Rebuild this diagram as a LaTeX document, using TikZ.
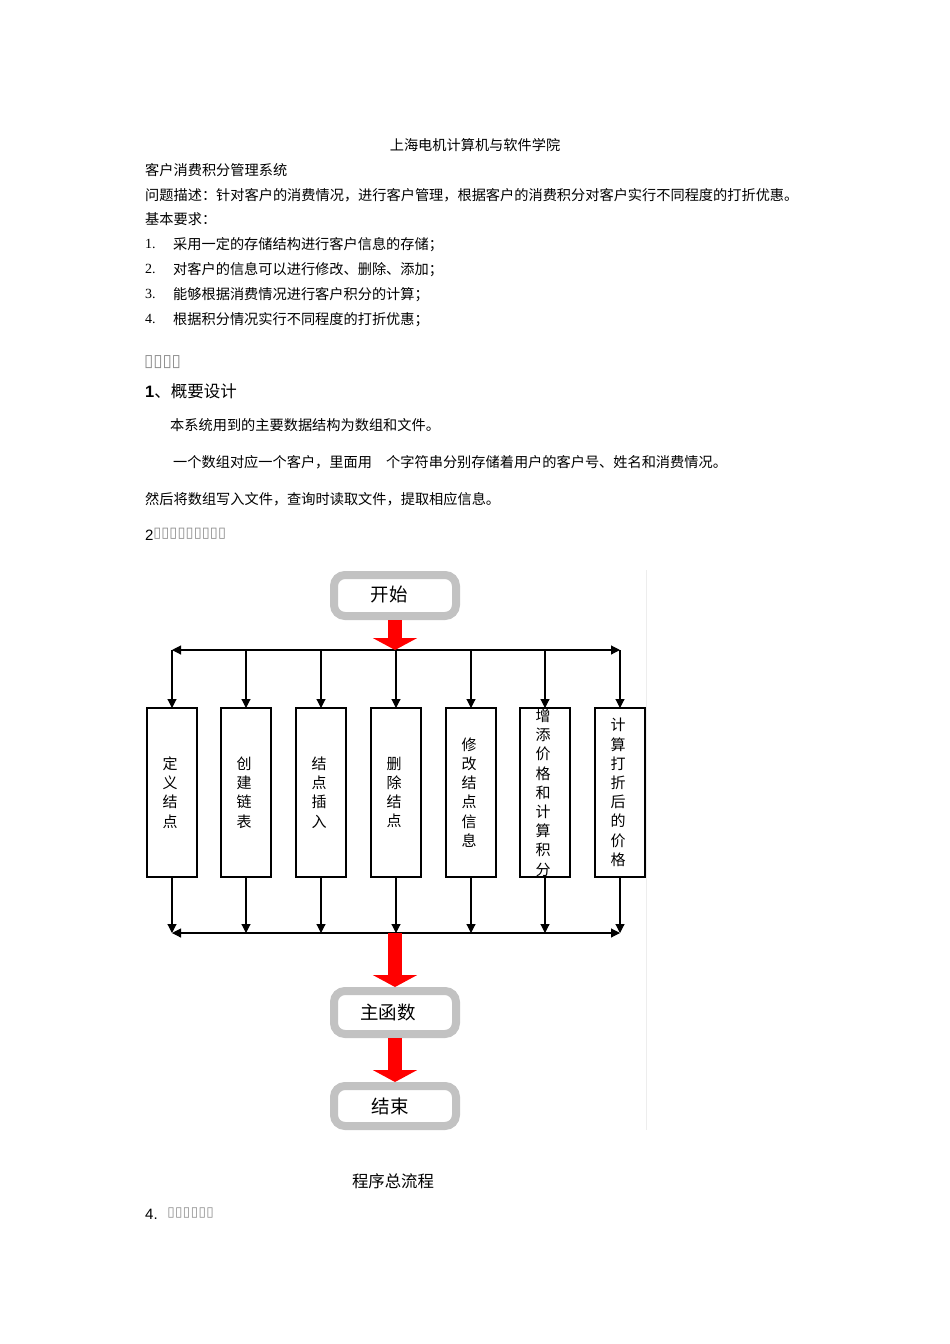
\documentclass[tikz,border=0pt]{standalone}
\usepackage{fontspec}
\setmainfont{Liberation Serif}
\newfontfamily\cjk{Noto Sans CJK SC}
\newfontfamily\lsans{Liberation Sans}
\newfontfamily\dejavu{DejaVu Sans}
\usetikzlibrary{arrows.meta}
\newcommand\tfu[1]{\makebox[#1pt]{\textcolor{black!45}{▯}}}
\begin{document}
\begin{tikzpicture}[x=1pt,y=-1pt,
  txt/.style={anchor=west,inner sep=0pt,font=\cjk\fontsize{14.2}{14.2}\selectfont},
  num/.style={anchor=west,inner sep=0pt,font=\fontsize{14}{14}\selectfont},
  tofu/.style={anchor=west,inner sep=0pt,font=\dejavu\fontsize{#1}{#1}\selectfont},
  rbox/.style={draw=black!24,line width=8pt,rounded corners=11pt,fill=white,
    minimum width=122pt,inner sep=0pt,outer sep=4pt},
  boxlab/.style={inner sep=0pt,font=\cjk\fontsize{18.5}{18.5}\selectfont},
  vbox/.style={draw,line width=1.1pt,minimum width=50pt,minimum height=169pt,inner sep=0pt,outer sep=0pt,fill=white},
  vlab/.style={align=center,inner sep=0pt,font=\cjk\fontsize{15}{19.2}\selectfont},
  conn/.style={line width=1.1pt,-{Triangle[width=9pt,length=9pt]}},
  conn2/.style={line width=1.1pt,{Triangle[width=9pt,length=9pt]}-{Triangle[width=9pt,length=9pt]}},
  redarr/.style={red,line width=14pt,-{Triangle[width=44pt,length=12pt]}}
]
\useasboundingbox (0,0) rectangle (950,1344);
\fill[white] (0,0) rectangle (950,1344);

% header text
\node[txt,anchor=center] (title) at (475,145.5) {上海电机计算机与软件学院};
\node[txt] (sys) at (145,170.5) {客户消费积分管理系统};
\node[txt] (desc) at (145,195.5) {问题描述：针对客户的消费情况，进行客户管理，根据客户的消费积分对客户实行不同程度的打折优惠。};
\node[txt] (req) at (145,219.5) {基本要求：};
\node[num] (n1) at (145,244) {1.};
\node[txt] (r1) at (173,244.5) {采用一定的存储结构进行客户信息的存储；};
\node[num] (n2) at (145,269) {2.};
\node[txt] (r2) at (173,269.5) {对客户的信息可以进行修改、删除、添加；};
\node[num] (n3) at (145,294) {3.};
\node[txt] (r3) at (173,294.5) {能够根据消费情况进行客户积分的计算；};
\node[num] (n4) at (145,319) {4.};
\node[txt] (r4) at (173,319.5) {根据积分情况实行不同程度的打折优惠；};

\node[tofu=17] (h0) at (144,362) {\tfu{9.2}\tfu{9.2}\tfu{9.2}\tfu{9.2}};
\node[anchor=west,inner sep=0pt,font=\fontsize{16.5}{16.5}\selectfont] (h1) at (145,391.5) {{\lsans\bfseries 1}{\cjk 、概要设计}};
\node[txt] (p1) at (170,425.5) {本系统用到的主要数据结构为数组和文件。};
\node[txt] (p2) at (173,462.5) {一个数组对应一个客户，里面用　个字符串分别存储着用户的客户号、姓名和消费情况。};
\node[txt] (p3) at (145,499.5) {然后将数组写入文件，查询时读取文件，提取相应信息。};
\node[anchor=west,inner sep=0pt,font=\lsans\fontsize{15}{15}\selectfont] (h2) at (145,535) {2};
\node[tofu=14.5] (h2t) at (153,534) {\tfu{8.1}\tfu{8.1}\tfu{8.1}\tfu{8.1}\tfu{8.1}\tfu{8.1}\tfu{8.1}\tfu{8.1}\tfu{8.1}};

% faint frame edge
\draw[black!7,line width=1pt] (646,570) -- (646,1130);

% flowchart
\node[rbox,minimum height=41pt] (start) at (395,595.5) {};
\node[boxlab] at ([xshift=-6pt,yshift=1pt]start.center) {开始};
\node[rbox,minimum height=43pt] (main) at (395,1012.5) {};
\node[boxlab] at ([xshift=-7pt]main.center) {主函数};
\node[rbox,minimum height=40pt] (end) at (395,1106) {};
\node[boxlab] at ([xshift=-5pt]end.center) {结束};

\foreach \i/\x in {1/172,2/246,3/321,4/396,5/471,6/545,7/620}{
  \node[vbox] (b\i) at (\x,792.5) {};
  \coordinate (t\i) at (\x,650);
  \coordinate (u\i) at (\x,933);
}
\coordinate (tc) at (395,650);
\coordinate (uc) at (395,933);

\node[vlab] at ([xshift=-2pt]b1.center) {定\\义\\结\\点};
\node[vlab] at ([xshift=-2pt]b2.center) {创\\建\\链\\表};
\node[vlab] at ([xshift=-2pt]b3.center) {结\\点\\插\\入};
\node[vlab] at ([xshift=-2pt]b4.center) {删\\除\\结\\点};
\node[vlab] at ([xshift=-2pt]b5.center) {修\\改\\结\\点\\信\\息};
\node[vlab] at ([xshift=-2pt]b6.center) {增\\添\\价\\格\\和\\计\\算\\积\\分};
\node[vlab] at ([xshift=-2pt]b7.center) {计\\算\\打\\折\\后\\的\\价\\格};

\draw[conn2] (t1) -- (t7);
\draw[conn2] (u1) -- (u7);
\foreach \i in {1,...,7}{
  \draw[conn] (t\i) -- (b\i.north);
  \draw[conn] (b\i.south) -- (u\i);
}

\draw[redarr] (start.south) -- (tc);
\draw[redarr] (uc) -- (main.north);
\draw[redarr] (main.south) -- (end.north);

\node[anchor=center,inner sep=0pt,font=\cjk\fontsize{16.4}{16.4}\selectfont] (cap) at (393,1181.5) {程序总流程};
\node[anchor=west,inner sep=0pt,font=\lsans\fontsize{15}{15}\selectfont] (h4) at (145,1214) {4.};
\node[tofu=13.5] (h4t) at (167,1213) {\tfu{7.8}\tfu{7.8}\tfu{7.8}\tfu{7.8}\tfu{7.8}\tfu{7.8}};
\end{tikzpicture}
\end{document}
